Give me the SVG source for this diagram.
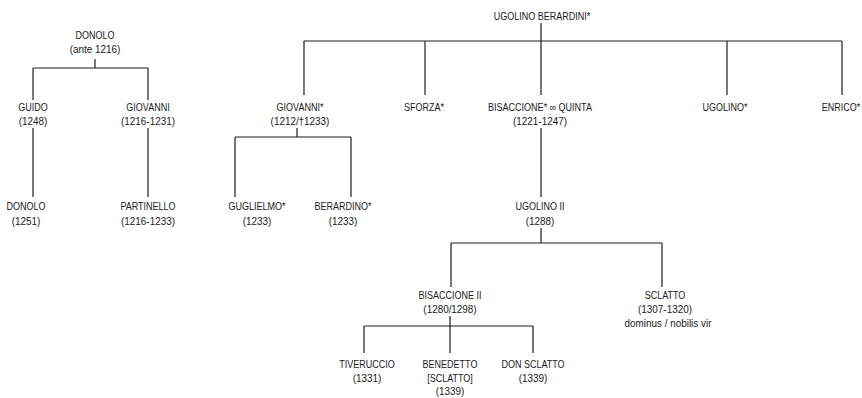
<svg xmlns="http://www.w3.org/2000/svg" width="862" height="398" viewBox="0 0 862 398">
<style>
.t{font-family:"Liberation Sans",Arial,sans-serif;font-size:11px;fill:#1a1a1a;text-anchor:middle}
.c path{fill:none;stroke:#1f1f1f;stroke-width:1.2}
</style>
<rect width="862" height="398" fill="#fff"/>
<g class="c" id="connectors">
<path d="M95,59V68M33,68H148M33,68V100M148,68V100"/>
<path d="M33,128V197M148,128V197"/>
<path d="M541,23V95M304,41H842M304,41V95M425,41V95M727,41V95M842,41V95"/>
<path d="M297,128V137M235,137H351M235,137V197M351,137V197"/>
<path d="M541,128V197"/>
<path d="M541,228V243M451,243H662M451,243V287M662,243V287"/>
<path d="M450,316V353M364,326H533M364,326V353M533,326V353"/>
</g>
<g id="donolo1" class="t"><text transform="translate(95,39) scale(0.82,1)">DONOLO</text><text transform="translate(95,53) scale(0.9,1)">(ante 1216)</text></g>
<g id="guido" class="t"><text transform="translate(33,111) scale(0.82,1)">GUIDO</text><text transform="translate(33,125) scale(0.9,1)">(1248)</text></g>
<g id="giovanni1" class="t"><text transform="translate(148,111) scale(0.82,1)">GIOVANNI</text><text transform="translate(148,125) scale(0.9,1)">(1216-1231)</text></g>
<g id="donolo2" class="t"><text transform="translate(26,210) scale(0.82,1)">DONOLO</text><text transform="translate(26,225) scale(0.9,1)">(1251)</text></g>
<g id="partinello" class="t"><text transform="translate(148,210) scale(0.82,1)">PARTINELLO</text><text transform="translate(148,225) scale(0.9,1)">(1216-1233)</text></g>
<g id="ugolinoB" class="t"><text transform="translate(542,20) scale(0.82,1)">UGOLINO BERARDINI*</text></g>
<g id="giovanni2" class="t"><text transform="translate(300,111) scale(0.82,1)">GIOVANNI*</text><text transform="translate(300,125) scale(0.9,1)">(1212/†1233)</text></g>
<g id="sforza" class="t"><text transform="translate(424,111) scale(0.82,1)">SFORZA*</text></g>
<g id="bisaccione" class="t"><text transform="translate(540,111) scale(0.82,1)">BISACCIONE* ∞ QUINTA</text><text transform="translate(540,125) scale(0.9,1)">(1221-1247)</text></g>
<g id="ugolino" class="t"><text transform="translate(725,111) scale(0.82,1)">UGOLINO*</text></g>
<g id="enrico" class="t"><text transform="translate(841,111) scale(0.82,1)">ENRICO*</text></g>
<g id="guglielmo" class="t"><text transform="translate(257,210) scale(0.82,1)">GUGLIELMO*</text><text transform="translate(257,225) scale(0.9,1)">(1233)</text></g>
<g id="berardino" class="t"><text transform="translate(343,210) scale(0.82,1)">BERARDINO*</text><text transform="translate(343,225) scale(0.9,1)">(1233)</text></g>
<g id="ugolino2" class="t"><text transform="translate(540,210) scale(0.82,1)">UGOLINO II</text><text transform="translate(540,225) scale(0.9,1)">(1288)</text></g>
<g id="bisaccione2" class="t"><text transform="translate(450,299) scale(0.82,1)">BISACCIONE II</text><text transform="translate(450,313) scale(0.9,1)">(1280/1298)</text></g>
<g id="sclatto" class="t"><text transform="translate(665,299) scale(0.82,1)">SCLATTO</text><text transform="translate(665,313) scale(0.9,1)">(1307-1320)</text><text transform="translate(668,327) scale(0.9,1)">dominus / nobilis vir</text></g>
<g id="tiveruccio" class="t"><text transform="translate(367,368) scale(0.82,1)">TIVERUCCIO</text><text transform="translate(367,382) scale(0.9,1)">(1331)</text></g>
<g id="benedetto" class="t"><text transform="translate(450,368) scale(0.82,1)">BENEDETTO</text><text transform="translate(450,382) scale(0.82,1)">[SCLATTO]</text><text transform="translate(450,395) scale(0.9,1)">(1339)</text></g>
<g id="donsclatto" class="t"><text transform="translate(533,368) scale(0.82,1)">DON SCLATTO</text><text transform="translate(533,382) scale(0.9,1)">(1339)</text></g>
</svg>
